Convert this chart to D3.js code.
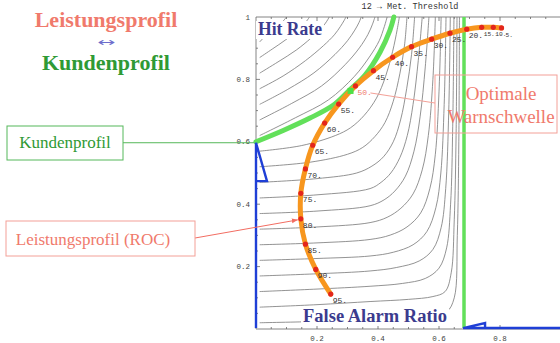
<!DOCTYPE html>
<html>
<head>
<meta charset="utf-8">
<script src="https://cdn.jsdelivr.net/npm/d3@7"></script>
<style>
  html, body { margin: 0; padding: 0; background: #fff; }
  svg { display: block; }
</style>
</head>
<body>
<svg id="chart" width="560" height="343"></svg>
<script>
// ROC ("Leistungsprofil"): threshold -> (false alarm ratio, hit rate)
const thresholds = [95, 90, 85, 80, 75, 70, 65, 60, 55, 50, 45, 40, 35, 30, 25, 20, 15, 10, 5];
const rocFar = [0.245, 0.196, 0.162, 0.147, 0.147, 0.162, 0.186, 0.225, 0.271, 0.326, 0.385, 0.448, 0.510, 0.576, 0.636, 0.691, 0.740, 0.778, 0.805];
const rocHit = [0.112, 0.191, 0.272, 0.353, 0.435, 0.513, 0.589, 0.660, 0.721, 0.779, 0.828, 0.871, 0.905, 0.929, 0.948, 0.961, 0.967, 0.967, 0.965];
const optimalThreshold = 50;

// customer profile ("Kundenprofil")
const profileFar = [0, 0.091, 0.177, 0.253, 0.305, 0.357, 0.407, 0.439, 0.452];
const profileHit = [0.6, 0.637, 0.676, 0.717, 0.764, 0.813, 0.888, 0.957, 1.0];
const maxFar = 0.682;
const optimum = [0.31, 0.763];

// blue arrows (min hit rate, max false alarm ratio)
const hitArrow = [[0, 0.003], [0, 0.597], [0.036, 0.474], [0, 0.474]];
const farArrow = [[1, 0.003], [0.679, 0.003], [0.751, 0.019], [0.751, 0.003]];

const xTicks = [0.2, 0.4, 0.6, 0.8];
const yTicks = [0.2, 0.4, 0.6, 0.8, 1];

// grey iso-lines as (FAR, hit rate) points
const contourLines = [
  [[0.012,0.02],[0.2,0.024],[0.4,0.03],[0.55,0.038],[0.625,0.055],[0.65,0.1],[0.66,0.3],[0.665,0.6],[0.667,1]],
  [[0.012,0.07],[0.2,0.078],[0.374,0.088],[0.5,0.095],[0.58,0.104],[0.62,0.12],[0.64,0.18],[0.65,0.35],[0.656,0.62],[0.659,1]],
  [[0.012,0.12],[0.2,0.128],[0.374,0.137],[0.48,0.146],[0.555,0.162],[0.6,0.195],[0.625,0.26],[0.638,0.4],[0.645,0.65],[0.649,1]],
  [[0.012,0.17],[0.2,0.177],[0.374,0.186],[0.46,0.197],[0.535,0.218],[0.58,0.255],[0.607,0.325],[0.622,0.45],[0.632,0.7],[0.637,1]],
  [[0.012,0.22],[0.2,0.226],[0.374,0.234],[0.45,0.246],[0.515,0.27],[0.56,0.312],[0.59,0.39],[0.606,0.5],[0.617,0.72],[0.623,1]],
  [[0.012,0.27],[0.2,0.276],[0.374,0.287],[0.44,0.301],[0.495,0.327],[0.54,0.372],[0.57,0.45],[0.588,0.56],[0.6,0.76],[0.607,1]],
  [[0.012,0.32],[0.2,0.327],[0.374,0.341],[0.43,0.358],[0.475,0.387],[0.515,0.433],[0.545,0.51],[0.565,0.62],[0.58,0.8],[0.588,1]],
  [[0.012,0.37],[0.2,0.378],[0.374,0.395],[0.42,0.414],[0.455,0.442],[0.49,0.49],[0.518,0.57],[0.538,0.68],[0.555,0.84],[0.567,1]],
  [[0.012,0.42],[0.2,0.43],[0.374,0.45],[0.41,0.47],[0.442,0.5],[0.472,0.55],[0.496,0.62],[0.515,0.72],[0.532,0.86],[0.545,1]],
  [[0.012,0.47],[0.2,0.482],[0.33,0.5],[0.38,0.522],[0.418,0.552],[0.45,0.6],[0.474,0.67],[0.494,0.77],[0.51,0.88],[0.52,1]],
  [[0.012,0.52],[0.18,0.535],[0.3,0.56],[0.35,0.582],[0.39,0.617],[0.423,0.662],[0.45,0.73],[0.472,0.82],[0.487,0.91],[0.495,1]],
  [[0.012,0.57],[0.15,0.588],[0.26,0.62],[0.31,0.645],[0.355,0.685],[0.395,0.74],[0.425,0.81],[0.448,0.89],[0.463,0.96],[0.47,1]],
  [[0.012,0.62],[0.129,0.677],[0.237,0.734],[0.323,0.81],[0.374,0.875],[0.404,0.924],[0.421,0.97],[0.43,1]],
  [[0.012,0.67],[0.117,0.723],[0.215,0.779],[0.293,0.848],[0.339,0.901],[0.367,0.944],[0.382,0.977],[0.39,1]],
  [[0.012,0.72],[0.104,0.768],[0.19,0.821],[0.259,0.88],[0.3,0.924],[0.324,0.958],[0.338,0.983],[0.345,1]],
  [[0.012,0.77],[0.089,0.811],[0.162,0.86],[0.221,0.908],[0.257,0.943],[0.277,0.97],[0.289,0.989],[0.295,1]],
  [[0.012,0.82],[0.072,0.856],[0.132,0.894],[0.18,0.932],[0.209,0.959],[0.226,0.978],[0.235,0.991],[0.24,1]],
  [[0.012,0.87],[0.053,0.897],[0.096,0.926],[0.131,0.953],[0.152,0.973],[0.165,0.986],[0.172,0.995],[0.175,1]],
  [[0.012,0.92],[0.03,0.938],[0.055,0.956],[0.075,0.973],[0.09,0.988],[0.1,1]]
];

const SERIF = '"Liberation Serif", "DejaVu Serif", serif';
const MONO = '"Liberation Mono", "DejaVu Sans Mono", monospace';
const SALMON = '#f07a6c';
const GREEN_TXT = '#2f9a35';
const GREEN = '#62e05a';
const BLUE = '#1f3fd6';
const NAVY = '#3b3b8e';

const svg = d3.select('#chart');
svg.append('rect').attr('width', 560).attr('height', 343).attr('fill', '#fff');

const x = d3.scaleLinear().domain([0, 1]).range([256, 561]);
const y = d3.scaleLinear().domain([0, 1]).range([329, 17]);

const line = d3.line()
  .x((d) => x(d[0]))
  .y((d) => y(d[1]))
  .curve(d3.curveCatmullRom.alpha(0.5));

svg.append('defs').append('clipPath').attr('id', 'plot')
  .append('rect')
  .attr('x', x(0)).attr('y', y(1))
  .attr('width', x(1) - x(0)).attr('height', y(0) - y(1));

// frame + ticks
const frame = svg.append('g').attr('stroke', '#666').attr('stroke-width', 0.8).attr('fill', 'none');
frame.append('path').attr('d', `M${x(1)},${y(1)}H${x(0)}V${y(0)}H${x(1)}`);
const minor = d3.range(0.05, 1, 0.05);
minor.forEach((v) => {
  const major = Math.abs(v * 5 - Math.round(v * 5)) < 1e-6;
  const len = major ? 4 : 2;
  frame.append('line').attr('x1', x(0)).attr('x2', x(0) + len).attr('y1', y(v)).attr('y2', y(v));
  frame.append('line').attr('x1', x(v)).attr('x2', x(v)).attr('y1', y(0)).attr('y2', y(0) - len);
  frame.append('line').attr('x1', x(v)).attr('x2', x(v)).attr('y1', y(1)).attr('y2', y(1) + len);
});

svg.append('g').selectAll('text').data(yTicks).join('text')
  .attr('x', x(0) - 6).attr('y', (d) => y(d)).attr('dy', '0.35em')
  .attr('text-anchor', 'end')
  .attr('font-family', MONO).attr('font-size', 7.5).attr('fill', '#444')
  .text((d) => (d === 1 ? '1' : d.toFixed(1)));

svg.append('g').selectAll('text').data(xTicks).join('text')
  .attr('x', (d) => x(d)).attr('y', 341)
  .attr('text-anchor', 'middle')
  .attr('font-family', MONO).attr('font-size', 7.5).attr('fill', '#444')
  .text((d) => d.toFixed(1));

svg.append('text')
  .attr('x', 410).attr('y', 9).attr('text-anchor', 'middle')
  .attr('font-family', MONO).attr('font-size', 8.5).attr('fill', '#333')
  .text('12 \u2192 Met. Threshold');

// grey iso-lines
svg.append('g').attr('clip-path', 'url(#plot)')
  .selectAll('path').data(contourLines).join('path')
  .attr('d', line)
  .attr('fill', 'none').attr('stroke', '#777').attr('stroke-width', 0.8);

// axis titles inside the plot (white background hides the lines)
function plotLabel(text, x0, base, w) {
  svg.append('rect').attr('x', x0 - 2).attr('y', base - 14).attr('width', w + 4).attr('height', 18).attr('fill', '#fff');
  svg.append('text').attr('x', x0).attr('y', base)
    .attr('font-family', SERIF).attr('font-weight', 'bold').attr('font-size', 18)
    .attr('fill', NAVY).attr('textLength', w).attr('lengthAdjust', 'spacingAndGlyphs')
    .text(text);
}
plotLabel('Hit Rate', 258, 35, 64);
plotLabel('False Alarm Ratio', 303, 322, 144);

// customer profile
svg.append('line')
  .attr('x1', x(maxFar)).attr('x2', x(maxFar)).attr('y1', y(0.003)).attr('y2', y(1))
  .attr('stroke', GREEN).attr('stroke-width', 3.5);
svg.append('path')
  .attr('d', line(profileFar.map((f, i) => [f, profileHit[i]])))
  .attr('fill', 'none').attr('stroke', GREEN).attr('stroke-width', 5).attr('stroke-linecap', 'round');

const arrowLine = d3.line().x((d) => x(d[0])).y((d) => y(d[1]));
[hitArrow, farArrow].forEach((a) => {
  svg.append('path').attr('d', arrowLine(a))
    .attr('fill', 'none').attr('stroke', BLUE).attr('stroke-width', 2.4).attr('stroke-linejoin', 'miter');
});

// ROC
const roc = thresholds.map((t, i) => ({ t, far: rocFar[i], hit: rocHit[i] }));
svg.append('path')
  .attr('d', line(roc.map((d) => [d.far, d.hit])))
  .attr('fill', 'none').attr('stroke', '#f7961e').attr('stroke-width', 5).attr('stroke-linecap', 'round');
svg.append('g').selectAll('circle').data(roc).join('circle')
  .attr('cx', (d) => x(d.far)).attr('cy', (d) => y(d.hit)).attr('r', 2.6)
  .attr('fill', '#e3261c');
svg.append('rect')
  .attr('x', x(optimum[0]) - 3).attr('y', y(optimum[1]) - 3).attr('width', 6).attr('height', 6)
  .attr('fill', '#4ee046');
// the last three labels are crowded at the top, so they are set a bit smaller
svg.append('g').selectAll('text').data(roc).join('text')
  .attr('x', (d) => x(d.far) + (d.t === 5 ? 4 : 2)).attr('y', (d) => y(d.hit) + 9)
  .attr('font-family', MONO).attr('font-size', (d) => (d.t <= 15 ? 6.2 : 8))
  .attr('fill', (d) => (d.t === optimalThreshold ? SALMON : '#333'))
  .text((d) => d.t + '.');

// annotations
const ann = svg.append('g');
ann.append('text').attr('x', 106).attr('y', 27).attr('text-anchor', 'middle')
  .attr('font-family', SERIF).attr('font-weight', 'bold').attr('font-size', 22).attr('fill', SALMON)
  .text('Leistungsprofil');
ann.append('text').attr('x', 97).attr('y', 46)
  .attr('font-family', '"DejaVu Sans", sans-serif').attr('font-size', 12).attr('fill', '#6d6dcc')
  .attr('textLength', 18).attr('lengthAdjust', 'spacingAndGlyphs')
  .text('\u2194');
ann.append('text').attr('x', 106).attr('y', 70).attr('text-anchor', 'middle')
  .attr('font-family', SERIF).attr('font-weight', 'bold').attr('font-size', 22).attr('fill', GREEN_TXT)
  .text('Kundenprofil');

ann.append('line').attr('x1', 123).attr('x2', x(0) - 2).attr('y1', y(0.597)).attr('y2', y(0.597))
  .attr('stroke', '#55b85a').attr('stroke-width', 1);
ann.append('rect').attr('x', 7).attr('y', 126).attr('width', 116).attr('height', 34)
  .attr('fill', '#fff').attr('stroke', '#55b85a').attr('stroke-width', 1);
ann.append('text').attr('x', 65).attr('y', 148).attr('text-anchor', 'middle')
  .attr('font-family', SERIF).attr('font-size', 17).attr('fill', GREEN_TXT)
  .text('Kundenprofil');

svg.append('defs').append('marker').attr('id', 'head')
  .attr('viewBox', '0 0 10 10').attr('refX', 10).attr('refY', 5)
  .attr('markerWidth', 6).attr('markerHeight', 6).attr('orient', 'auto')
  .append('path').attr('d', 'M0,1L10,5L0,9Z').attr('fill', '#f26d62');
const roc80 = roc.find((d) => d.t === 80);
ann.append('line').attr('x1', 195).attr('y1', 238)
  .attr('x2', x(roc80.far) - 3).attr('y2', y(roc80.hit) + 1)
  .attr('stroke', '#f26d62').attr('stroke-width', 1).attr('marker-end', 'url(#head)');
ann.append('rect').attr('x', 6).attr('y', 221).attr('width', 189).attr('height', 35)
  .attr('fill', '#fff').attr('stroke', '#f3a097').attr('stroke-width', 1);
ann.append('text').attr('x', 93).attr('y', 245).attr('text-anchor', 'middle')
  .attr('font-family', SERIF).attr('font-size', 17).attr('fill', SALMON)
  .text('Leistungsprofil (ROC)');

const rocOpt = roc.find((d) => d.t === optimalThreshold);
ann.append('line').attr('x1', x(rocOpt.far) + 15).attr('y1', y(rocOpt.hit) + 7)
  .attr('x2', 435).attr('y2', 103)
  .attr('stroke', '#f3a097').attr('stroke-width', 1);
ann.append('rect').attr('x', 435).attr('y', 75).attr('width', 122).attr('height', 58)
  .attr('fill', 'none').attr('stroke', '#f3a097').attr('stroke-width', 1);
ann.append('text').attr('x', 501).attr('y', 100).attr('text-anchor', 'middle')
  .attr('font-family', SERIF).attr('font-size', 19).attr('fill', SALMON)
  .text('Optimale');
ann.append('text').attr('x', 501).attr('y', 123).attr('text-anchor', 'middle')
  .attr('font-family', SERIF).attr('font-size', 19).attr('fill', SALMON)
  .text('Warnschwelle');
</script>
</body>
</html>
